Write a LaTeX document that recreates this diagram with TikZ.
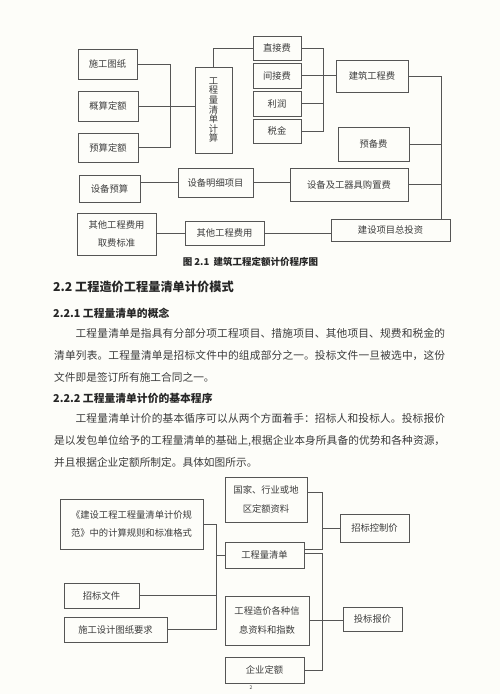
\documentclass[tikz,border=0pt]{standalone}
\usepackage{fontspec}
\newfontfamily\cjk{Noto Sans CJK SC}
\XeTeXlinebreaklocale "zh"
\XeTeXlinebreakskip=0pt plus 1pt
\usetikzlibrary{positioning,calc}
\definecolor{pagebg}{RGB}{253,253,249}
\definecolor{ink}{RGB}{85,85,85}
\definecolor{txt}{RGB}{60,60,60}

\begin{document}
\begin{tikzpicture}[x=1pt, y=-1pt, font=\cjk,
  blk/.style={draw=ink, line width=0.7pt, inner sep=0pt, align=center, text=txt,
    font=\cjk\fontsize{9.3}{18.5}\selectfont},
  lnk/.style={draw=ink, line width=0.7pt},
  para/.style={anchor=north west, text width=391pt, align=justify, inner sep=0pt,
    text=txt, font=\cjk\fontsize{10.7}{22}\selectfont},
  head/.style={anchor=west, inner sep=0pt, text=black!85,
    font=\cjk\bfseries\fontsize{10.8}{13}\selectfont}]
  \fill[pagebg] (0,0) rectangle (500,694);
  \useasboundingbox (0,0) rectangle (500,694);

  % figure 2.1
  \node[blk, minimum width=59pt, minimum height=30pt] (tz) at (107.5,64) {施工图纸};
  \node[blk, minimum width=60pt, minimum height=30pt] (gs) at (108,106) {概算定额};
  \node[blk, minimum width=60pt, minimum height=29pt] (ys) at (108,147.5) {预算定额};
  \node[blk, minimum width=37pt, minimum height=86pt, font=\cjk\fontsize{9.3}{9.6}\selectfont]
    (ql) at (213.5,110) {工\\程\\量\\清\\单\\计\\算};
  \node[blk, minimum width=48pt, minimum height=24pt] (zj) at (277,48) {直接费};
  \node[blk, minimum width=48pt, minimum height=25pt] (jj) at (277,75.5) {间接费};
  \node[blk, minimum width=48pt, minimum height=25pt] (lr) at (277,103.5) {利润};
  \node[blk, minimum width=48pt, minimum height=24pt] (sj) at (277,131) {税金};
  \node[blk, minimum width=72pt, minimum height=32pt] (jz) at (372,76) {建筑工程费};
  \node[blk, minimum width=71pt, minimum height=34pt] (yb) at (373.5,144) {预备费};
  \node[blk, minimum width=61pt, minimum height=27pt] (sbys) at (109.5,188.5) {设备预算};
  \node[blk, minimum width=75pt, minimum height=29pt] (sbmx) at (215.5,182.5) {设备明细项目};
  \node[blk, minimum width=118pt, minimum height=33pt] (gz) at (349,184.5) {设备及工器具购置费};
  \node[blk, minimum width=79pt, minimum height=42pt] (qtbz) at (116.5,234) {其他工程费用\\取费标准};
  \node[blk, minimum width=79pt, minimum height=24pt] (qtfy) at (224.5,233) {其他工程费用};
  \node[blk, minimum width=119pt, minimum height=22pt] (zt) at (390.5,230) {建设项目总投资};

  \coordinate (lb) at (170,0);
  \coordinate (rb) at (323,0);
  \coordinate (tb) at (441,0);
  \draw[lnk] (tz.east) -| (lb |- ys.east) -- (ys.east);
  \draw[lnk] (gs.east) -- (gs.east -| ql.west);
  \draw[lnk] (ql.north) |- (zj.west);
  \draw[lnk] (zj.east) -| (rb |- sj.east) -- (sj.east);
  \draw[lnk] (lr.east) -- (lr.east -| rb);
  \draw[lnk] (jj.east) -- (jj.east -| jz.west);
  \draw[lnk] (jz.east) -| (tb |- zt.north);
  \draw[lnk] (yb.east) -- (yb.east -| tb);
  \draw[lnk] (gz.east) -- (gz.east -| tb);
  \draw[lnk] (sbys.east |- sbmx.west) -- (sbmx.west);
  \draw[lnk] (sbmx.east) -- (sbmx.east -| gz.west);
  \draw[lnk] (qtbz.east |- qtfy.west) -- (qtfy.west);
  \draw[lnk] (qtfy.east) -- (qtfy.east -| zt.west);

  \node[text=black!85, font=\cjk\bfseries\fontsize{9.5}{11}\selectfont] (cap) at (250.5,262)
    {图 2.1\ \ 建筑工程定额计价程序图};

  % text
  \node[head, font=\cjk\bfseries\fontsize{12.2}{14}\selectfont] (h22) at (53,287)
    {2.2\ 工程造价工程量清单计价模式};
  \node[head] (h221) at (53,313) {2.2.1\ 工程量清单的概念};
  \node[para] (p1) at (54,328) {\hspace*{21.4pt}工程量清单是指具有分部分项工程项目、措施项目、其他项目、规费和税金的\linebreak
    清单列表。工程量清单是招标文件中的组成部分之一。投标文件一旦被选中，这份\linebreak
    文件即是签订所有施工合同之一。};
  \node[head] (h222) at (53,398) {2.2.2\ 工程量清单计价的基本程序};
  \node[para] (p2) at (54,413) {\hspace*{21.4pt}工程量清单计价的基本循序可以从两个方面着手：招标人和投标人。投标报价\linebreak
    是以发包单位给予的工程量清单的基础上,根据企业本身所具备的优势和各种资源，\linebreak
    并且根据企业定额所制定。具体如图所示。};

  % bill of quantities chart
  \node[blk, minimum width=82pt, minimum height=45pt] (gj) at (266,499.5) {国家、行业或地\\区定额资料};
  \node[blk, minimum width=143pt, minimum height=50pt] (gf) at (131.5,524)
    {《建设工程工程量清单计价规\\范》中的计算规则和标准格式};
  \node[blk, minimum width=79pt, minimum height=26pt] (gcqd) at (264.5,555) {工程量清单};
  \node[blk, minimum width=69pt, minimum height=28pt] (zbkz) at (374.5,528) {招标控制价};
  \node[blk, minimum width=75pt, minimum height=25pt] (zbwj) at (101.5,595.5) {招标文件};
  \node[blk, minimum width=103pt, minimum height=25pt] (sgsj) at (115.5,629.5) {施工设计图纸要求};
  \node[blk, minimum width=84pt, minimum height=49pt] (zjxx) at (267,620.5) {工程造价各种信\\息资料和指数};
  \node[blk, minimum width=59pt, minimum height=24pt] (tbbj) at (372.5,619) {投标报价};
  \node[blk, minimum width=79pt, minimum height=26pt] (qyde) at (264.5,670) {企业定额};

  \coordinate (bl) at (216,0);
  \coordinate (br) at (322,0);
  \coordinate (g1) at ([yshift=7.5pt]gj.east);
  \coordinate (q1) at ([yshift=6pt]gcqd.east);
  \coordinate (q2) at ([yshift=2pt]gcqd.east);
  \draw[lnk] (gf.east) -| (bl |- sgsj.east) -- (sgsj.east);
  \draw[lnk] (zbwj.east) -- (zbwj.east -| bl);
  \draw[lnk] (bl |- gcqd.west) -- (gcqd.west);
  \draw[lnk] (g1) -| (br |- q1) -- (q1);
  \draw[lnk] (br |- zbkz.west) -- (zbkz.west);
  \draw[lnk] (q2) -| (br |- qyde.east) -- (qyde.east);
  \draw[lnk] (zjxx.east) -- (zjxx.east -| tbbj.west);

  \node[text=txt, inner sep=0pt, font=\cjk\fontsize{5}{6}\selectfont] (pg) at (251,688) {2};
\end{tikzpicture}
\end{document}
